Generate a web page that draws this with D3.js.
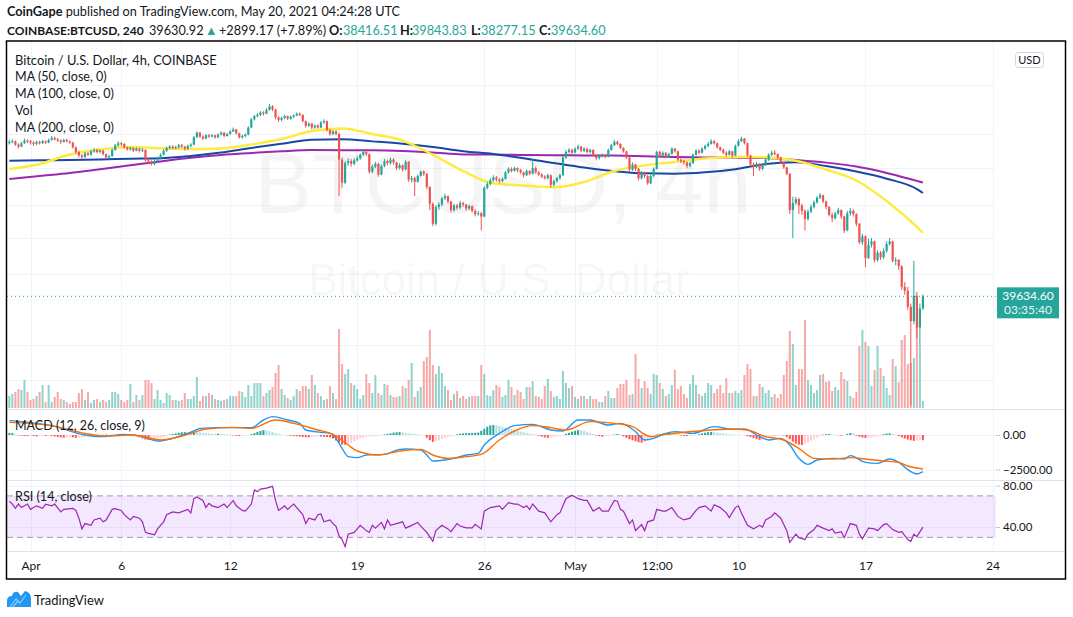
<!DOCTYPE html>
<html>
<head>
<meta charset="utf-8">
<script src="https://cdn.jsdelivr.net/npm/d3@7"></script>
<style>
  body { margin: 0; background: #fff; }
  svg { display: block; }
  text { font-family: Lato, "Liberation Sans", sans-serif; fill: #131722; }
</style>
</head>
<body>
<script>
// ---- data (prices in thousand USD, 4h candles starting 2021-03-30 20:00 UTC) ----
const firstOpen = 58.6;
const closeK = [
58.8,58.9,58.4,58.1,58.6,59.0,58.9,
58.7,58.5,58.8,58.6,58.9,58.7, 59.1,59.4,59.2,59.0,58.8,59.1, 58.9,58.7,58.0,57.3,56.8,56.6,
57.1,56.9,57.4,57.6,57.3,57.5, 57.0,56.5,56.7,57.6,58.3,58.6, 58.5,58.0,57.7,57.9,57.5,57.8,
57.5,57.6,56.1,55.9,55.6,56.0, 56.4,56.9,57.5,57.9,58.1,57.9, 58.0,58.3,58.1,57.8,58.2,58.4,
59.5,60.2,59.6,59.3,59.8,59.6, 59.8,59.5,59.9,60.2,59.7,60.0, 60.4,60.7,60.1,59.5,59.7,59.9,
61.0,62.3,62.8,63.0,63.4,63.2, 63.8,64.4,63.9,62.6,62.2,62.5, 62.8,62.4,62.7,62.9,63.2,63.0,
62.0,61.3,61.6,61.0,61.3,61.0, 61.8,62.0,60.6,60.0,60.4,60.0, 56.2,53.0,55.7,56.0,55.6,56.1,
56.4,56.9,57.3,57.0,54.5,55.2, 55.6,54.1,55.3,56.0,55.7,56.2, 55.8,55.0,55.4,54.8,55.9,53.4,
53.6,53.1,53.9,54.5,54.2,52.4, 50.2,47.7,49.8,50.1,50.9,51.2, 50.5,49.4,50.0,49.7,50.3,50.1,
49.6,49.9,49.3,48.9,49.0,48.6, 52.3,52.8,53.3,53.7,53.4,53.2, 53.5,54.4,54.9,54.6,55.0,54.7,
54.4,54.0,54.6,54.2,55.0,54.4, 54.1,53.8,53.6,54.0,52.7,53.2, 53.6,54.0,56.5,57.3,57.6,57.2,
57.8,58.1,57.5,57.8,57.3,57.6, 56.8,56.4,56.7,56.9,56.6,57.6, 58.3,58.8,58.5,57.9,57.4,56.5,
54.8,55.5,54.9,53.6,54.4,53.9, 52.9,53.9,54.9,57.3,56.8,57.2, 56.6,57.0,57.8,57.4,56.2,56.0,
55.8,55.3,55.7,56.9,57.5,57.2, 57.8,58.2,58.5,58.9,58.6,58.0, 57.6,57.2,56.9,57.4,56.8,58.2,
58.9,59.3,58.6,56.8,55.5,55.2, 55.6,54.9,55.4,56.2,56.9,57.2, 57.0,56.5,55.8,55.1,54.2,49.4,
50.3,50.8,50.0,49.3,48.3,49.2, 49.8,50.4,51.0,51.3,50.5,49.8, 48.8,48.4,49.0,49.4,48.6,46.9,
49.0,49.3,48.9,47.7,45.5,46.2, 43.7,45.2,45.6,43.5,44.3,43.8, 44.5,45.3,45.6,43.4,43.5,42.8,
40.6,40.2,38.6,37.2,39.7,36.6, 38.42,39.63
];
const highK = [
59.1,59.2,59.0,58.6,58.8,59.3,59.2,
59.1,58.9,59.0,59.0,59.1,59.0, 59.3,59.7,59.6,59.4,59.2,59.3, 59.3,59.0,58.8,58.1,57.5,57.0,
57.3,57.3,57.6,57.9,57.8,57.7, 57.6,57.1,56.9,57.8,58.5,58.9, 58.8,58.6,58.1,58.1,58.0,58.0,
57.9,57.9,57.7,56.4,56.1,56.2, 56.6,57.1,57.7,58.1,58.3,58.3, 58.2,58.5,58.5,58.2,58.4,58.6,
59.7,60.4,60.3,59.8,60.0,60.0, 60.0,59.9,60.1,60.4,60.3,60.2, 60.6,61.0,60.8,60.2,59.9,60.1,
61.2,62.5,63.0,63.3,63.6,63.6, 64.1,64.8,64.6,64.0,62.8,62.7, 63.0,62.9,62.9,63.1,63.4,63.4,
63.1,62.1,61.8,61.7,61.5,61.5, 62.0,62.3,62.1,60.8,60.6,60.6, 60.2,56.5,56.0,56.4,56.3,56.4,
56.7,57.1,57.6,57.5,57.1,55.5, 55.9,55.7,55.5,56.3,56.2,56.5, 56.4,55.9,55.7,55.5,56.1,56.0,
53.9,53.8,54.1,54.7,54.7,54.3, 52.5,50.4,50.0,50.4,51.1,51.5, 51.3,50.6,50.2,50.2,50.6,50.5,
50.2,50.1,50.0,49.5,49.3,49.2, 52.5,53.1,53.6,54.0,53.9,53.6, 53.7,54.6,55.1,55.1,55.2,55.1,
54.9,54.5,54.8,54.7,56.3,55.2, 54.6,54.3,54.0,54.2,54.1,53.4, 53.8,54.2,56.8,57.6,57.9,57.8,
58.0,58.4,58.2,58.0,57.9,57.8, 57.7,56.9,56.9,57.1,57.0,57.8, 58.5,59.1,59.0,58.6,58.0,57.5,
56.6,55.8,55.6,55.0,54.6,54.5, 54.0,54.1,55.1,57.5,57.5,57.4, 57.3,57.2,58.0,57.9,57.5,56.4,
56.2,55.9,55.9,57.1,57.7,57.7, 58.0,58.4,58.8,59.2,59.1,58.7, 58.1,57.8,57.4,57.6,57.5,58.4,
59.2,59.6,59.4,58.7,56.9,55.8, 55.9,55.7,55.6,56.4,57.1,57.5, 57.6,57.1,56.6,55.9,55.2,54.3,
51.1,51.1,51.0,50.2,49.5,49.5, 50.1,50.6,51.2,51.6,51.4,50.6, 49.9,49.1,49.2,49.7,49.5,48.7,
49.3,49.7,49.5,49.0,47.8,46.5, 46.3,45.9,46.0,45.7,44.6,44.5, 44.8,45.6,46.0,45.7,43.8,43.6,
42.9,41.1,40.6,38.9,43.4,40.1, 38.9,39.84
];
const lowK = [
58.4,58.6,58.2,57.8,58.0,58.5,58.6,
58.4,58.2,58.3,58.4,58.5,58.5, 58.6,59.0,59.0,58.8,58.5,58.7, 58.7,58.5,57.8,57.0,56.5,56.3,
56.4,56.7,56.8,57.2,57.1,57.1, 56.8,56.3,56.3,56.6,57.5,58.1, 58.2,57.8,57.5,57.5,57.3,57.4,
57.2,57.3,55.9,55.6,55.4,55.4, 55.8,56.2,56.8,57.3,57.7,57.7, 57.7,57.8,57.9,57.5,57.6,58.0,
58.3,59.4,59.4,59.1,59.2,59.4, 59.5,59.3,59.4,59.8,59.5,59.6, 59.9,60.3,59.9,59.3,59.3,59.5,
59.8,60.9,62.1,62.6,62.8,62.9, 63.1,63.7,63.6,62.3,61.9,62.0, 62.3,62.2,62.2,62.5,62.8,62.8,
61.8,61.0,61.1,60.7,60.8,60.8, 60.9,61.6,60.4,59.7,59.8,59.8, 51.2,52.3,52.8,55.3,55.2,55.4,
55.9,56.2,56.7,56.7,54.2,54.3, 55.0,53.8,54.0,55.1,55.4,55.5, 55.5,54.7,54.8,54.5,54.7,53.1,
53.0,51.2,53.0,53.8,53.9,52.1, 49.4,47.4,47.5,49.4,49.9,50.7, 50.2,49.1,49.2,49.4,49.5,49.8,
49.3,49.4,49.1,48.6,48.7,46.9, 48.5,52.1,52.6,53.1,53.1,52.9, 53.0,53.4,54.2,54.4,54.5,54.4,
54.2,53.7,53.9,54.0,54.1,54.2, 53.9,53.6,53.4,53.4,52.3,52.5, 53.0,53.4,53.9,56.3,57.1,57.0,
57.1,57.6,57.3,57.3,57.1,57.1, 56.6,56.1,56.2,56.5,56.4,56.5, 57.5,58.2,58.3,57.7,57.2,56.3,
54.5,54.6,54.6,53.3,53.4,53.6, 52.7,52.8,53.7,54.8,56.6,56.6, 56.4,56.4,56.9,57.2,56.0,55.7,
55.5,55.0,55.1,55.6,56.8,57.0, 57.1,57.6,58.0,58.4,58.4,57.8, 57.4,57.0,56.6,56.8,56.5,56.7,
58.1,58.8,58.4,56.6,55.2,53.9, 55.0,54.6,54.7,55.3,56.0,56.7, 56.8,56.3,55.6,54.9,54.0,48.9,
46.0,50.1,48.9,48.8,46.9,48.1, 49.0,49.6,50.2,50.8,50.3,49.5, 48.6,47.9,48.2,48.8,48.3,46.6,
46.8,48.7,48.6,47.4,45.3,45.2, 42.7,43.6,44.9,43.2,43.3,43.5, 43.6,44.3,45.1,43.2,42.9,42.4,
40.3,39.8,38.3,30.0,36.9,35.6, 35.0,38.28
];
// volume, hundreds of BTC
const volume = [
12,14,16,19,18,28,16,8,9,12,16,23,6,23,6,11,16,9,8,6,4,6,6,15,19,8,16,5,8,9,6,8,6,8,16,16,14,8,6,8,24,6,13,8,13,28,28,25,9,18,
8,5,15,13,8,8,7,8,15,9,9,12,31,7,12,12,15,13,9,8,7,8,9,12,12,12,17,16,11,23,12,25,25,25,12,15,18,21,35,43,19,13,10,8,12,19,17,22,22,19,
33,23,15,12,8,9,22,15,9,79,44,34,39,25,23,19,9,13,34,25,15,33,15,13,24,23,13,11,11,12,22,20,28,45,11,17,21,47,51,78,43,34,42,35,22,18,8,14,17,10,12,
9,11,12,12,12,43,34,13,12,18,23,21,11,
13,28,21,13,18,16,9,21,21,27,12,11,9,22,29,17,11,12,9,37,25,20,22,11,9,12,12,9,12,9,9,6,6,12,17,10,10,20,24,24,
28,13,14,54,29,20,27,20,14,34,33,25,19,12,14,23,38,19,22,14,10,24,33,23,14,12,15,25,23,15,19,23,15,30,15,15,17,15,18,33,44,39,12,12,24,21,15,18,11,14,
10,14,33,47,77,64,23,39,39,88,28,23,15,18,33,34,26,27,17,21,18,36,29,27,12,10,16,62,78,66,62,22,38,62,40,32,20,13,49,42,26,68,73,44,45,50,81,63,7
];

// moving averages read at candle indices
const maIdx = [0,10,20,30,40,50,60,70,80,90,100,110,120,130,140,150,160,170,180,190,200,210,220,230,240,250,260,270,280,290,300,302];
const ma50K = [54.87,55.57,56.94,57.67,58.04,57.85,57.74,57.82,58.41,59.24,60.46,60.85,60.00,59.01,56.91,54.59,52.90,52.61,52.37,53.08,54.59,55.39,55.86,56.36,56.62,56.53,56.03,54.80,53.28,50.56,47.32,46.60];
const ma100K = [56.05,56.10,56.14,56.22,56.33,56.39,56.72,57.22,57.90,58.52,59.12,59.19,58.88,58.53,58.04,57.42,57.01,56.41,55.72,55.07,54.56,54.26,54.20,54.40,54.84,55.57,55.82,55.29,54.52,53.53,52.13,51.61];
const ma200K = [53.49,53.90,54.31,54.84,55.38,55.93,56.46,56.87,57.16,57.41,57.58,57.57,57.56,57.46,57.23,56.94,56.94,56.87,56.84,56.81,56.78,56.68,56.58,56.52,56.49,56.43,56.14,55.77,55.21,54.32,53.23,53.01];

// MACD (12, 26, 9)
const macdIdx = [0,4,14,25,30,38,44,49,54,61,63,69,80,84,87,92,96,98,103,106,108,110,112,115,118,124,129,131,136,138,140,144,147,151,155,157,162,167,173,179,183,188,192,198,202,207,210,213,217,220,226,233,239,243,248,251,255,258,261,264,267,272,276,278,283,287,291,294,298,300,302];
const macdVal = [1038,966,676,0,-121,48,-121,-435,-242,290,483,531,531,1087,1328,1087,845,362,193,121,-242,-966,-1570,-1642,-1449,-1401,-1039,-1014,-1087,-1449,-1884,-1812,-1691,-1449,-1328,-725,121,676,773,362,290,1087,1087,725,845,242,-362,-242,121,242,121,604,411,435,-121,-362,-242,-725,-1691,-2126,-1812,-1691,-1739,-1498,-1981,-2053,-1739,-1981,-2657,-2826,-2657];
const signalIdx = [0,14,25,32,41,50,59,65,74,80,88,94,102,107,112,115,122,129,136,140,145,151,156,162,167,173,179,184,192,200,206,212,217,228,239,244,250,256,261,266,272,278,283,289,294,297,302];
const signalVal = [918,676,121,-72,0,-362,48,435,556,483,1087,845,362,48,-725,-1159,-1449,-1159,-1039,-1449,-1691,-1570,-1401,-362,290,676,531,362,966,845,604,-121,48,290,435,362,-121,-362,-966,-1691,-1739,-1642,-1739,-1884,-1981,-2246,-2464];
const hist = [
140,140,70,
-30,-50,-70,-70,-50,-70,-100,-70,-50,-70,-40,-70,-100,-140,-170,-200,-170,-140,-170,-210,-200,-170,
-140,-100,-70,-40,-20,0, 20,30,20,-20,-30,10,20,10,-10,-20,-30,
-100,-170,-250,-330,-360,-350,-300,-250, -200,-140,-70, 40,80,120,160,200,210,190,
170,220,210,190,160,140,110,90, 80,90,70,60,50,40, -30,-50,-70,-60,-40,-20,
60,140,220,290,350,340,280,210,140, 80,40,10,-20,
-50,-70,-90,-110,-140,-160,-170,-150,-130,-100,-110,-130,-150,-170,
-250,-400,-550,-700,-700,-640, -560,-450,-350,-250,-180,-130, -100,-90,-80,-60,-30,
40,80,120,170,200,210,180,150, 120,90,70,60,40,10, -200,-380,-500, -440,-380,-300,-220,-160,-100,-50,
50,90,120,130,140, 150,160,180, 300,450,600,700,720,700,650,
600,540,480,420,360,300,250,200,150,110,80,50, -60,-120,-170,-210,-200, -160,-120,-80,-40,
80,160,240,300,350,340, 290,220,150,80, -40,-80,-120,-100,-60,-20, 40,70,50,
-100,-200,-300,-380,-450,-520,-560,-500, -400,-280,-160, 40,80,110,130,140,130,110,80,
-40,-60,-70,-60,-40,-20, 60,110,160,200,220,200,170, 140,110,80,60,40, 30,20,10,-10,
-80,-150,-230,-300,-350,-320,-280, -220,-150,-80, -40,-20,-30,
-150,-300,-480,-620,-700,-720,-660, -560,-420,-300,-180,-80, 30,60,70,50, 20,-20,-50,-40, 80,140,120,
-60,-120,-180,-210,-200,-170,-130,-100,-60, 60,100,120,90,40,
-80,-170,-260,-330,-380,-420,-400,-360,-380
];

// RSI (14)
const rsiIdx = [0,1,2,3,4,6,7,9,11,12,14,15,17,18,21,22,23,24,25,27,28,30,31,32,34,35,37,38,40,41,43,44,45,46,48,49,51,52,54,56,59,60,61,62,64,65,66,67,69,71,72,74,75,77,78,80,81,82,83,85,87,88,89,90,91,92,94,95,97,98,99,101,102,103,104,106,107,108,109,110,111,112,114,116,118,119,120,121,123,124,125,126,128,130,131,133,135,136,138,140,141,143,145,146,148,149,151,
153,154,156,157,159,162,163,165,167,168,170,171,172,173,175,177,179,181,182,184,185,186,188,190,191,193,195,196,198,200,201,202,203,205,206,207,209,210,211,213,214,216,217,219,221,223,225,227,228,230,232,233,235,237,238,240,241,242,244,246,248,249,250,252,253,255,257,258,260,261,263,264,266,267,269,271,272,273,275,276,278,280,281,282,284,286,287,289,290,292,294,295,297,298,299,300,302];
const rsiVal = [64.9,62.1,58.0,62.1,58.7,62.1,57.0,60.4,58.0,62.1,60.4,62.1,54.6,57.0,58.0,56.0,48.5,38.2,43.3,41.6,46.8,48.5,45.0,46.8,57.0,57.7,56.0,51.9,46.8,50.2,48.5,45.0,34.8,33.8,32.4,38.2,45.0,51.9,54.6,53.6,57.0,53.6,67.3,69.0,65.6,58.7,62.8,60.4,58.7,62.1,58.7,65.6,60.4,56.0,55.3,62.1,75.8,74.1,76.5,77.5,79.2,65.6,56.0,58.0,60.4,57.0,62.1,58.7,51.9,43.3,48.5,46.8,51.9,52.6,45.0,46.8,43.3,40.6,31.4,27.9,21.1,33.1,34.8,41.6,36.5,34.8,41.6,38.9,44.4,38.2,46.8,41.6,43.3,45.0,38.9,41.6,44.4,40.9,34.8,26.2,36.5,41.6,38.2,35.5,43.3,40.9,39.2,
39.2,42.6,38.2,55.3,58.7,60.4,57.0,63.5,62.1,62.1,58.7,60.4,57.0,62.1,55.3,53.6,45.0,51.9,53.6,67.3,69.0,70.7,67.3,65.6,65.6,55.3,58.7,55.3,55.3,65.6,64.9,57.0,55.3,43.3,46.8,36.5,42.3,36.5,45.0,46.8,57.0,55.3,55.3,58.7,50.2,46.8,48.5,56.0,58.7,60.4,55.3,61.5,58.7,53.6,49.1,58.7,60.4,53.6,41.6,38.2,41.6,39.9,46.8,50.2,53.6,48.5,36.5,25.2,33.1,29.7,27.9,33.1,37.5,41.6,38.9,36.5,38.2,34.1,35.5,29.7,43.3,41.6,33.1,28.6,38.9,38.2,36.5,42.3,43.3,37.5,34.8,35.5,27.9,26.2,33.1,30.7,39.9];

// axes
const priceTicks = [76, 68, 60, 55, 50, 46, 42, 35, 32];
const macdTicks = [0, -2500];
const rsiTicks = [80, 40];
const timeTickDates = ["2021-04-01T00:00Z","2021-04-06T00:00Z","2021-04-12T00:00Z","2021-04-19T00:00Z","2021-04-26T00:00Z","2021-05-01T00:00Z","2021-05-05T12:00Z","2021-05-10T00:00Z","2021-05-17T00:00Z","2021-05-24T00:00Z"];
const timeTickLabels = ["Apr","6","12","19","26","May","12:00","10","17","24"];
const lastPrice = 39.6346;

// ---- layout ----
const W = 1073, H = 617;
const L = 7, R = 996, T = 41, mainB = 409, macdT = 410, macdB = 480, rsiT = 481, rsiB = 551, frameB = 579;
const UP = "#26a69a", DOWN = "#ef5350", GRID = "#f0f3fa";

const t0 = Date.UTC(2021, 2, 30, 20);
const dates = closeK.map((_, i) => new Date(t0 + i * 4 * 3600e3));
const openK = closeK.map((c, i) => i ? closeK[i - 1] : firstOpen);

const x = d3.scaleUtc().domain([new Date("2021-04-01T00:00Z"), new Date("2021-05-24T00:00Z")]).range([30.5, 992.5]);
const yP = d3.scaleLog().domain([35, 60]).range([345, 134]);
const yV = d3.scaleLinear().domain([0, 100]).range([408, 308]);
const yM = d3.scaleLinear().domain([-2500, 0]).range([469.5, 435]);
const yR = d3.scaleLinear().domain([40, 80]).range([527, 485.5]);
const xi = i => x(dates[i]);

const svg = d3.select("body").append("svg").attr("width", W).attr("height", H);
svg.append("rect").attr("width", W).attr("height", H).attr("fill", "#fff");

const defs = svg.append("defs");
[["clipMain", T, mainB], ["clipMacd", macdT, macdB], ["clipRsi", rsiT, rsiB], ["clipAxis", T + 1, rsiB]].forEach(([id, a, b]) => {
  defs.append("clipPath").attr("id", id).append("rect")
    .attr("x", id == "clipAxis" ? R : L).attr("y", a).attr("width", id == "clipAxis" ? 80 : R - L).attr("height", b - a);
});

function fitSize(text, w, weight = 400) {
  const t = svg.append("text").attr("font-size", 100).attr("font-weight", weight).text(text);
  const len = t.node().getComputedTextLength();
  t.remove();
  return 100 * w / len;
}

// grid
const grid = svg.append("g").attr("stroke", GRID).attr("stroke-width", 1);
grid.selectAll(".v").data(timeTickDates).join("line")
  .attr("x1", d => Math.round(x(new Date(d))) + 0.5).attr("x2", d => Math.round(x(new Date(d))) + 0.5)
  .attr("y1", T).attr("y2", rsiB);
grid.selectAll(".hp").data(priceTicks).join("line").attr("class", "hp")
  .attr("x1", L).attr("x2", R).attr("y1", d => Math.round(yP(d)) + 0.5).attr("y2", d => Math.round(yP(d)) + 0.5);
grid.selectAll(".hm").data(macdTicks).join("line").attr("class", "hm")
  .attr("x1", L).attr("x2", R).attr("y1", d => Math.round(yM(d)) + 0.5).attr("y2", d => Math.round(yM(d)) + 0.5);
grid.selectAll(".hr").data(rsiTicks).join("line").attr("class", "hr")
  .attr("x1", L).attr("x2", R).attr("y1", d => Math.round(yR(d)) + 0.5).attr("y2", d => Math.round(yR(d)) + 0.5);

// watermark
const wm = svg.append("g").attr("clip-path", "url(#clipMain)").attr("text-anchor", "middle");
wm.append("text").attr("x", 503).attr("y", 213).attr("font-size", 86)
  .style("font-family", "'Liberation Sans', sans-serif").style("fill", "rgba(19,23,34,0.045)").text("BTCUSD, 4h");
wm.append("text").attr("x", 499).attr("y", 295).attr("font-size", 44)
  .style("font-family", "'Liberation Sans', sans-serif").style("fill", "rgba(19,23,34,0.045)").text("Bitcoin / U.S. Dollar");

// main pane
const main = svg.append("g").attr("clip-path", "url(#clipMain)");
main.append("g").selectAll("rect").data(volume).join("rect")
  .attr("x", (d, i) => xi(i) - 1).attr("width", 2)
  .attr("y", d => yV(d)).attr("height", d => yV(0) - yV(d))
  .attr("fill", (d, i) => closeK[i] >= openK[i] ? "rgba(38,166,154,0.5)" : "rgba(239,83,80,0.5)");

const maLine = vals => d3.line().x((d, j) => xi(maIdx[j])).y(d => yP(d)).curve(d3.curveMonotoneX)(vals);
[[ma200K, "#9c27b0"], [ma100K, "#1848a6"], [ma50K, "#ffeb3b"]].forEach(([v, c]) => {
  main.append("path").attr("d", maLine(v)).attr("fill", "none").attr("stroke", c).attr("stroke-width", c == "#ffeb3b" ? 2.4 : 2);
});

main.append("line").attr("x1", L).attr("x2", R).attr("y1", yP(lastPrice)).attr("y2", yP(lastPrice))
  .attr("stroke", UP).attr("stroke-dasharray", "1,3");

const candle = main.append("g").selectAll("g").data(closeK).join("g")
  .attr("fill", (d, i) => d >= openK[i] ? UP : DOWN).attr("stroke", (d, i) => d >= openK[i] ? UP : DOWN);
candle.append("line").attr("x1", (d, i) => xi(i)).attr("x2", (d, i) => xi(i))
  .attr("y1", (d, i) => yP(highK[i])).attr("y2", (d, i) => yP(lowK[i])).attr("stroke-width", 1);
candle.append("rect").attr("stroke", "none")
  .attr("x", (d, i) => xi(i) - 1.1).attr("width", 2.2)
  .attr("y", (d, i) => yP(Math.max(d, openK[i])))
  .attr("height", (d, i) => Math.max(1, Math.abs(yP(d) - yP(openK[i]))));

// MACD pane
const macdG = svg.append("g").attr("clip-path", "url(#clipMacd)");
macdG.append("g").selectAll("rect").data(hist).join("rect")
  .attr("x", (d, i) => xi(i) - 1).attr("width", 2)
  .attr("y", d => Math.min(yM(d), yM(0))).attr("height", d => Math.abs(yM(d) - yM(0)))
  .attr("fill", (d, i) => {
    const p = i ? hist[i - 1] : d;
    if (d >= 0) return d >= p ? "#26a69a" : "#b2dfdb";
    return d <= p ? "#ff5252" : "#ffcdd2";
  });
const pathOf = (idx, vals, y) => d3.line().x((d, j) => xi(idx[j])).y(d => y(d)).curve(d3.curveMonotoneX)(vals);
macdG.append("path").attr("d", pathOf(macdIdx, macdVal, yM)).attr("fill", "none").attr("stroke", "#2196f3").attr("stroke-width", 1.4);
macdG.append("path").attr("d", pathOf(signalIdx, signalVal, yM)).attr("fill", "none").attr("stroke", "#ff6d00").attr("stroke-width", 1.4);

// RSI pane
const rsiG = svg.append("g").attr("clip-path", "url(#clipRsi)");
rsiG.append("rect").attr("x", L).attr("width", R - L).attr("y", yR(70)).attr("height", yR(30) - yR(70))
  .attr("fill", "rgba(149,33,246,0.1)");
[70, 30].forEach(v => rsiG.append("line").attr("x1", L).attr("x2", R).attr("y1", yR(v)).attr("y2", yR(v))
  .attr("stroke", "#a59bb0").attr("stroke-dasharray", "6,4"));
rsiG.append("path").attr("d", d3.line().x((d, j) => xi(rsiIdx[j])).y(d => yR(d))(rsiVal))
  .attr("fill", "none").attr("stroke", "#9c27b0").attr("stroke-width", 1.2);

// separators
const sep = svg.append("g").attr("stroke", "#e0e3eb");
[409.5, 480.5, 551.5].forEach(v => sep.append("line").attr("x1", L).attr("x2", 1065).attr("y1", v).attr("y2", v));

// price axis
const axisStyle = g => {
  g.select(".domain").remove();
  g.selectAll(".tick line").attr("stroke", "#c8cad2");
  g.selectAll(".tick text").attr("font-size", 11.5).style("fill", "#131722");
};
svg.append("g").attr("transform", `translate(${R},0)`).attr("clip-path", "url(#clipAxis)")
  .call(d3.axisRight(yP).tickValues(priceTicks).tickSize(4).tickPadding(3).tickFormat(d => d3.format(".2f")(d * 1000)))
  .call(axisStyle);
svg.append("g").attr("transform", `translate(${R},0)`)
  .call(d3.axisRight(yM).tickValues(macdTicks).tickSize(4).tickPadding(3).tickFormat(d3.format(".2f")))
  .call(axisStyle);
svg.append("g").attr("transform", `translate(${R},0)`)
  .call(d3.axisRight(yR).tickValues(rsiTicks).tickSize(4).tickPadding(3).tickFormat(d3.format(".2f")))
  .call(axisStyle);

// time axis
svg.append("g").attr("transform", `translate(0,${rsiB})`)
  .call(d3.axisBottom(x).tickValues(timeTickDates.map(d => new Date(d))).tickSize(0).tickPadding(10)
    .tickFormat((d, i) => timeTickLabels[i]))
  .call(g => {
    g.select(".domain").remove();
    g.selectAll(".tick text").attr("font-size", 12).style("fill", "#131722");
  });

// last price label
const yl = yP(lastPrice);
svg.append("rect").attr("x", 997).attr("y", yl - 9).attr("width", 62).attr("height", 31).attr("fill", UP);
svg.append("text").attr("x", 1028).attr("y", yl + 4).attr("text-anchor", "middle").attr("font-size", 12)
  .style("fill", "#fff").text("39634.60");
svg.append("text").attr("x", 1028).attr("y", yl + 18).attr("text-anchor", "middle").attr("font-size", 12)
  .style("fill", "#e6f6f4").text("03:35:40");

// USD badge
svg.append("rect").attr("x", 1015.5).attr("y", 52.5).attr("width", 28).attr("height", 15).attr("rx", 3)
  .attr("fill", "#fff").attr("stroke", "#d1d4dc");
svg.append("text").attr("x", 1029.5).attr("y", 64).attr("text-anchor", "middle").attr("font-size", 11).text("USD");

// frame
svg.append("rect").attr("x", 6.5).attr("y", 41).attr("width", 1059).attr("height", frameB - 41)
  .attr("fill", "none").attr("stroke", "#000").attr("stroke-width", 1.5);

// legends
const legSize = fitSize("MA (100, close, 0)", 99);
svg.append("text").attr("x", 15).attr("y", 65).attr("font-size", fitSize("Bitcoin / U.S. Dollar, 4h, COINBASE", 202)).text("Bitcoin / U.S. Dollar, 4h, COINBASE");
[["MA (50, close, 0)", 81], ["MA (100, close, 0)", 98], ["Vol", 115], ["MA (200, close, 0)", 132]].forEach(([t, y]) => {
  svg.append("text").attr("x", 15).attr("y", y).attr("font-size", legSize).text(t);
});
svg.append("text").attr("x", 15).attr("y", 430).attr("font-size", fitSize("MACD (12, 26, close, 9)", 130)).text("MACD (12, 26, close, 9)");
svg.append("text").attr("x", 15).attr("y", 501).attr("font-size", fitSize("RSI (14, close)", 77)).text("RSI (14, close)");

// header
const hs = fitSize("CoinGape published on TradingView.com, May 20, 2021 04:24:28 UTC", 393);
const h1 = svg.append("text").attr("x", 7).attr("y", 16).attr("font-size", hs);
h1.append("tspan").attr("font-weight", 700).text("CoinGape");
h1.append("tspan").text(" published on TradingView.com, May 20, 2021 04:24:28 UTC");

svg.append("text").attr("x", 7).attr("y", 35).attr("font-weight", 700)
  .attr("font-size", Math.min(hs, fitSize("COINBASE:BTCUSD, 240", 137, 700))).text("COINBASE:BTCUSD, 240");
const h2 = [
  ["39630.92", 149, 400, "#131722"], ["\u25B2", 205, 400, UP],
  ["+2899.17 (+7.89%)", 219, 400, "#131722"],
  ["O:", 329, 700, "#131722"], ["38416.51", 343, 400, UP],
  ["H:", 400, 700, "#131722"], ["39843.83", 412, 400, UP],
  ["L:", 471, 700, "#131722"], ["38277.15", 481, 400, UP],
  ["C:", 539, 700, "#131722"], ["39634.60", 551, 400, UP]
];
h2.forEach(([t, xx, fw, c]) => {
  svg.append("text").attr("x", xx).attr("y", 35).attr("font-size", hs).attr("font-weight", fw).style("fill", c).text(t);
});

// TradingView mark
svg.append("path").attr("d", "M7,607 L7,601 Q7,596 12,596 Q13,591 18,592 L21,596 L25,591 Q31,592 31,599 L31,607 Z")
  .attr("fill", "#2196f3");
svg.append("path").attr("d", "M10,607 L16,599 L20,603 L26,595 M13,607 L18,601")
  .attr("fill", "none").attr("stroke", "#90caf9").attr("stroke-width", 1.2);
svg.append("text").attr("x", 34).attr("y", 605).attr("font-size", fitSize("TradingView", 70)).text("TradingView");
</script>
</body>
</html>
